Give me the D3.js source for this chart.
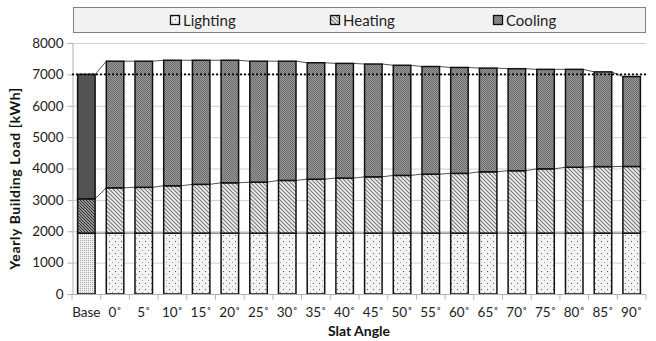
<!DOCTYPE html>
<html>
<head>
<meta charset="utf-8">
<script src="https://cdn.jsdelivr.net/npm/d3@7/dist/d3.min.js"></script>
<style>
  body { margin: 0; background: #fff; }
  svg { display: block; font-family: Lato, "Liberation Sans", sans-serif; }
</style>
</head>
<body>
<div id="chart"></div>
<script>
const categories = ["Base", "0˚", "5˚", "10˚", "15˚", "20˚", "25˚", "30˚", "35˚", "40˚", "45˚", "50˚", "55˚", "60˚", "65˚", "70˚", "75˚", "80˚", "85˚", "90˚"];
const lighting = [1940, 1940, 1940, 1940, 1940, 1940, 1940, 1940, 1940, 1940, 1940, 1940, 1940, 1940, 1940, 1940, 1940, 1940, 1940, 1940];
const heating = [1095, 1445, 1460, 1510, 1555, 1605, 1625, 1680, 1720, 1755, 1795, 1840, 1880, 1905, 1955, 1990, 2050, 2100, 2120, 2125];
const cooling = [3965, 4035, 4020, 4000, 3955, 3905, 3855, 3800, 3710, 3655, 3595, 3510, 3430, 3375, 3305, 3250, 3170, 3120, 3020, 2865];
const yTicks = [0, 1000, 2000, 3000, 4000, 5000, 6000, 7000, 8000];
const baseLine = 7000;
const seriesNames = ["Lighting", "Heating", "Cooling"];

const width = 656, height = 341;
const margin = { top: 43, right: 10, bottom: 47, left: 72 };

const svg = d3.select("#chart").append("svg")
    .attr("width", width)
    .attr("height", height);

// fill patterns
const defs = svg.append("defs");
function pat(id, size, bg, draw) {
    const p = defs.append("pattern").attr("id", id)
        .attr("patternUnits", "userSpaceOnUse")
        .attr("width", size).attr("height", size);
    p.append("rect").attr("width", size).attr("height", size).attr("fill", bg);
    draw(p);
}
pat("pLight", 6, "#f3f3f3", p => {
    p.append("rect").attr("x", 1).attr("y", 1).attr("width", 1).attr("height", 1).attr("fill", "#555");
    p.append("rect").attr("x", 4).attr("y", 4).attr("width", 1).attr("height", 1).attr("fill", "#999");
});
pat("pLightBase", 2, "#eeeeee", p => {
    p.append("rect").attr("width", 1).attr("height", 1).attr("fill", "#aaa");
});
pat("pHeat", 4, "#f0f0f0", p => {
    p.append("path").attr("d", "M0,0L4,4M-1,3L1,5M3,-1L5,1").attr("stroke", "#7a7a7a").attr("stroke-width", 1.2);
});
pat("pHeatBase", 3, "#e8e8e8", p => {
    p.append("path").attr("d", "M0,0L3,3M-1,2L1,4M2,-1L4,1").attr("stroke", "#303030").attr("stroke-width", 1.3);
});
pat("pCool", 2, "#9a9a9a", p => {
    p.append("rect").attr("width", 1).attr("height", 1).attr("fill", "#6a6a6a");
    p.append("rect").attr("x", 1).attr("y", 1).attr("width", 1).attr("height", 1).attr("fill", "#6a6a6a");
});
pat("pCoolBase", 2, "#555", p => {
    p.append("rect").attr("width", 1).attr("height", 1).attr("fill", "#4d4d4d");
});

const x = d3.scaleBand()
    .domain(categories)
    .range([margin.left, width - margin.right])
    .paddingInner(0.39)
    .paddingOuter(0.195);

const y = d3.scaleLinear()
    .domain([0, 8000])
    .range([height - margin.bottom, margin.top]);

// gridlines
svg.append("g")
    .selectAll("line")
    .data(yTicks.filter(d => d > 0))
    .join("line")
    .attr("x1", margin.left).attr("x2", width - margin.right)
    .attr("y1", d => y(d) + 0.5).attr("y2", d => y(d) + 0.5)
    .attr("stroke", "#d0d0d0");

// y axis
const yAxis = svg.append("g")
    .attr("transform", `translate(${margin.left + 0.5},0)`)
    .call(d3.axisLeft(y).tickValues(yTicks).tickFormat(d3.format("d")).tickSize(5).tickPadding(4));
yAxis.select(".domain").attr("stroke", "#b0b0b0");
yAxis.selectAll(".tick line").attr("stroke", "#b0b0b0");
yAxis.selectAll("text").attr("font-size", 13.5).attr("fill", "#222").style("font-family", "Lato, sans-serif");

// stacked data
const rows = categories.map((c, i) => ({ cat: c, Lighting: lighting[i], Heating: heating[i], Cooling: cooling[i] }));
const stacked = d3.stack().keys(seriesNames)(rows);

const fills = {
    Lighting: (i) => i === 0 ? "url(#pLightBase)" : "url(#pLight)",
    Heating: (i) => i === 0 ? "url(#pHeatBase)" : "url(#pHeat)",
    Cooling: (i) => i === 0 ? "url(#pCoolBase)" : "url(#pCool)"
};

// series lines between bars
const seriesG = svg.append("g");
stacked.forEach(layer => {
    for (let i = 0; i < layer.length - 1; i++) {
        seriesG.append("line")
            .attr("x1", x(categories[i]) + x.bandwidth())
            .attr("x2", x(categories[i + 1]))
            .attr("y1", y(layer[i][1]))
            .attr("y2", y(layer[i + 1][1]))
            .attr("stroke", "#555")
            .attr("stroke-width", 1);
    }
});

// bars
stacked.forEach(layer => {
    svg.append("g")
        .selectAll("rect")
        .data(layer)
        .join("rect")
        .attr("x", (d, i) => x(categories[i]))
        .attr("y", d => y(d[1]))
        .attr("width", x.bandwidth())
        .attr("height", d => y(d[0]) - y(d[1]))
        .attr("fill", (d, i) => fills[layer.key](i))
        .attr("stroke", "#111")
        .attr("stroke-width", 1.5);
});

// x axis
const xAxisG = svg.append("g")
    .attr("transform", `translate(0,${y(0) + 0.5})`);
xAxisG.append("line")
    .attr("x1", margin.left).attr("x2", width - margin.right)
    .attr("stroke", "#b0b0b0");
const bounds = categories.map(c => x(c) - x.step() * x.paddingInner() / 2);
bounds.push(width - margin.right);
xAxisG.selectAll(".tk")
    .data(bounds)
    .join("line")
    .attr("class", "tk")
    .attr("x1", d => d).attr("x2", d => d)
    .attr("y1", 0).attr("y2", 5)
    .attr("stroke", "#b0b0b0");
xAxisG.selectAll("text")
    .data(categories)
    .join("text")
    .attr("x", d => x(d) + x.bandwidth() / 2)
    .attr("y", 22)
    .attr("text-anchor", "middle")
    .attr("font-size", 13.5)
    .attr("fill", "#222")
    .text(d => d);

// 7000 reference line
svg.append("line")
    .attr("x1", margin.left).attr("x2", width - margin.right)
    .attr("y1", y(baseLine)).attr("y2", y(baseLine))
    .attr("stroke", "#000")
    .attr("stroke-width", 1.6)
    .attr("stroke-dasharray", "2,2");

// axis titles
svg.append("text")
    .attr("transform", `translate(20,${(margin.top + y(0)) / 2 + 10}) rotate(-90)`)
    .attr("text-anchor", "middle")
    .attr("font-size", 14)
    .attr("font-weight", "bold")
    .attr("letter-spacing", 0.6)
    .attr("fill", "#111")
    .text("Yearly Building Load [kWh]");

svg.append("text")
    .attr("x", (margin.left + width - margin.right) / 2)
    .attr("y", 336)
    .attr("text-anchor", "middle")
    .attr("font-size", 14)
    .attr("font-weight", "bold")
    .attr("fill", "#111")
    .text("Slat Angle");

// legend
const legend = svg.append("g");
legend.append("rect")
    .attr("x", 73.5).attr("y", 7.5)
    .attr("width", 572).attr("height", 25)
    .attr("fill", "#f2f2f2")
    .attr("stroke", "#808080");
const legendX = [170, 330, 493];
seriesNames.forEach((s, i) => {
    legend.append("rect")
        .attr("x", legendX[i] + 0.5).attr("y", 15.5)
        .attr("width", 9).attr("height", 9)
        .attr("fill", fills[s](1))
        .attr("stroke", "#111")
        .attr("stroke-width", 1.3);
    legend.append("text")
        .attr("x", legendX[i] + 13)
        .attr("y", 25.5)
        .attr("font-size", 15)
        .attr("fill", "#222")
        .text(s);
});
</script>
</body>
</html>
